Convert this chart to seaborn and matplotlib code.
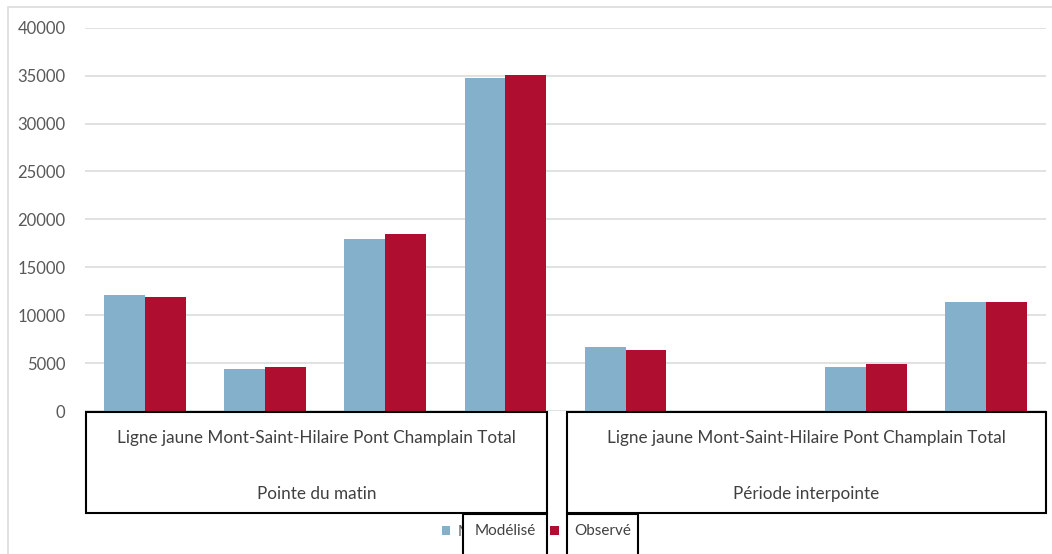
import matplotlib
matplotlib.use("Agg")
import matplotlib.pyplot as plt
from matplotlib.patches import Rectangle
import seaborn as sns
import pandas as pd

# Ridership by line and period
groups = ["Pointe du matin", "Période interpointe"]
lines = ["Ligne jaune", "Mont-Saint-Hilaire", "Pont Champlain", "Total"]
series = ["Modélisé", "Observé"]
modelise = [12100, 4400, 18000, 34700, 6700, 0, 4600, 11400]
observe = [11850, 4600, 18500, 35100, 6400, 0, 4900, 11400]
yticks = [0, 5000, 10000, 15000, 20000, 25000, 30000, 35000, 40000]

colors = {"Modélisé": "#85B0CB", "Observé": "#AF0E31"}

keys = [f"{g}|{l}" for g in groups for l in lines]
df = pd.DataFrame({
    "cat": keys * 2,
    "serie": [series[0]] * len(keys) + [series[1]] * len(keys),
    "val": modelise + observe,
})

W, H = 1052, 554
sns.set_theme(style="white")
plt.rcParams["font.family"] = ["Lato", "DejaVu Sans"]

fig = plt.figure(figsize=(W / 100, H / 100), dpi=100)


def fx(px):
    return px / W


def fy(py):
    return 1 - py / H


ax_left, ax_right, ax_top, ax_bottom = 85, 1046, 27.7, 411
ax = fig.add_axes([fx(ax_left), fy(ax_bottom), fx(ax_right - ax_left), (ax_bottom - ax_top) / H])

sns.barplot(data=df, x="cat", y="val", hue="serie", order=keys, hue_order=series,
            palette=colors, width=0.68, saturation=1, linewidth=0, ax=ax, legend=True)

ax.set_ylim(0, 40000)
ax.set_yticks(yticks)
ax.set_yticklabels([str(v) for v in yticks], color="#595959", fontsize=12)
ax.tick_params(axis="y", length=0, pad=14)
ax.set_xticks([])
ax.set_xlabel("")
ax.set_ylabel("")
ax.yaxis.grid(True, color="#D9D9D9", linewidth=1.1)
ax.set_axisbelow(True)
for s in ax.spines.values():
    s.set_visible(False)

# chart frame
fig.add_artist(Rectangle((fx(8), fy(560)), fx(1060 - 8), (560 - 7) / H, transform=fig.transFigure,
                         fill=False, edgecolor="#D9D9D9", linewidth=1.1))

# legend
handles, labels = ax.get_legend_handles_labels()
ax.get_legend().remove()
leg = fig.legend(handles, labels, loc="center left", bbox_to_anchor=(fx(428), fy(532)), ncol=2,
                 frameon=False, handlelength=0.55, handleheight=0.55, handletextpad=0.5,
                 columnspacing=2.05, fontsize=11, labelcolor="#595959")
leg.set_zorder(2)


def boxed(x0, y0, x1, y1, zorder=5):
    fig.add_artist(Rectangle((fx(x0), fy(y1)), fx(x1 - x0), (y1 - y0) / H, transform=fig.transFigure,
                             facecolor="white", edgecolor="black", linewidth=1.5, zorder=zorder))


# category group boxes
label_line = " ".join(lines)
for (x0, x1), g in zip([(86, 547), (567, 1046)], groups):
    boxed(x0, 412, x1, 513)
    xc = (x0 + x1) / 2
    fig.text(fx(xc), fy(438), label_line, ha="center", va="center", fontsize=12.3,
             color="#404040", zorder=6)
    fig.text(fx(xc), fy(494), g, ha="center", va="center", fontsize=12.3,
             color="#404040", zorder=6)

# legend label boxes
for (x0, x1), s in zip([(463, 547), (567, 638)], series):
    boxed(x0, 514, x1, 560)
    fig.text(fx((x0 + x1) / 2), fy(531), s, ha="center", va="center", fontsize=11,
             color="#404040", zorder=6)

fig.savefig("out.png", dpi=100)
